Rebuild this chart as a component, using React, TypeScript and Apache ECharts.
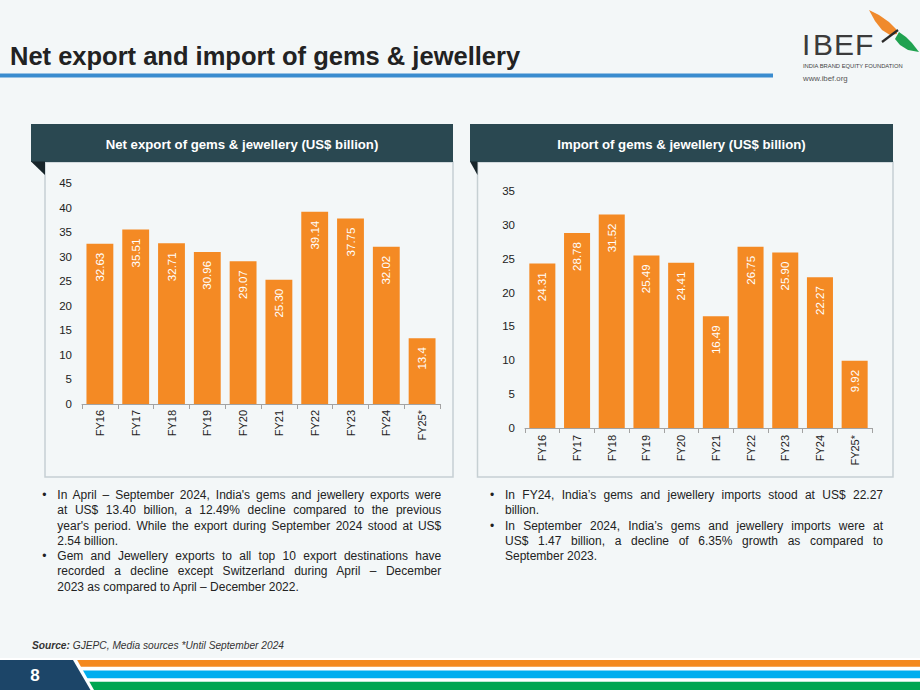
import React, { useEffect, useRef } from "react";
import * as echarts from "echarts";

// Fiscal-year categories shared by both charts
const fiscalYears = ["FY16", "FY17", "FY18", "FY19", "FY20", "FY21", "FY22", "FY23", "FY24", "FY25*"];

// Net export of gems & jewellery (US$ billion)
const netExports = [32.63, 35.51, 32.71, 30.96, 29.07, 25.3, 39.14, 37.75, 32.02, 13.4];
const netExportLabels = ["32.63", "35.51", "32.71", "30.96", "29.07", "25.30", "39.14", "37.75", "32.02", "13.4"];

// Import of gems & jewellery (US$ billion)
const imports = [24.31, 28.78, 31.52, 25.49, 24.41, 16.49, 26.75, 25.9, 22.27, 9.92];
const importLabels = ["24.31", "28.78", "31.52", "25.49", "24.41", "16.49", "26.75", "25.90", "22.27", "9.92"];

// Value-axis ranges
const exportAxis = { min: 0, max: 45, interval: 5 };
const importAxis = { min: 0, max: 35, interval: 5 };

const pageTitle = "Net export and import of gems & jewellery";
const exportTitle = "Net export of gems & jewellery (US$ billion)";
const importTitle = "Import of gems & jewellery (US$ billion)";

const exportNotes = [
  [
    "In April – September 2024, India's gems and jewellery exports were",
    "at US$ 13.40 billion, a 12.49% decline compared to the previous",
    "year's period. While the export during September 2024 stood at US$",
    "2.54 billion.",
  ],
  [
    "Gem and Jewellery exports to all top 10 export destinations have",
    "recorded a decline except Switzerland during April – December",
    "2023 as compared to April – December 2022.",
  ],
];

const importNotes = [
  ["In FY24, India’s gems and jewellery imports stood at US$ 22.27", "billion."],
  [
    "In September 2024, India’s gems and jewellery imports were at",
    "US$ 1.47 billion, a decline of 6.35% growth as compared to",
    "September 2023.",
  ],
];

const FONT = "'Liberation Sans', Arial, Helvetica, sans-serif";
const BG = "#f3f7f8";
const ORANGE = "#f48a24";
const HEADER = "#2a4851";
const AXIS = "#a3a3a3";
const INK = "#222222";

function categoryAxis(gridIndex: number, margin: number) {
  return {
    type: "category" as const,
    gridIndex,
    data: fiscalYears,
    axisLine: { show: true, lineStyle: { color: AXIS, width: 1 } },
    axisTick: { show: true, alignWithLabel: false, length: 5, lineStyle: { color: AXIS } },
    axisLabel: { rotate: 90, color: INK, fontSize: 11, fontFamily: FONT, margin },
    splitLine: { show: false },
  };
}

function valueAxis(gridIndex: number, range: { min: number; max: number; interval: number }) {
  return {
    type: "value" as const,
    gridIndex,
    min: range.min,
    max: range.max,
    interval: range.interval,
    axisLine: { show: false },
    axisTick: { show: false },
    splitLine: { show: false },
    axisLabel: { color: INK, fontSize: 11.5, fontFamily: FONT, margin: 10 },
  };
}

function barSeries(index: number, values: number[], labels: string[]) {
  return {
    type: "bar" as const,
    xAxisIndex: index,
    yAxisIndex: index,
    data: values,
    barCategoryGap: "25%",
    itemStyle: { color: ORANGE },
    label: {
      show: true,
      position: "insideTop",
      rotate: 90,
      align: "right",
      verticalAlign: "middle",
      distance: 9,
      color: "#ffffff",
      fontSize: 11.5,
      fontFamily: FONT,
      formatter: (p: any) => labels[p.dataIndex],
    },
  };
}

function text(x: number, y: number, t: string, style: Record<string, any>, z = 5) {
  return {
    type: "text",
    x,
    y,
    z,
    style: {
      text: t,
      fontFamily: FONT,
      align: style.align ?? "left",
      textAlign: style.align ?? "left",
      verticalAlign: "middle",
      textVerticalAlign: "middle",
      ...style,
    },
  };
}

function panelFrame(hx: number, hw: number, bodyX: number, title: string) {
  return [
    {
      type: "rect",
      shape: { x: bodyX, y: 162, width: hx + hw - bodyX, height: 315 },
      style: { fill: BG, stroke: "#c6d0d3", lineWidth: 1.5 },
      z: 0,
    },
    { type: "rect", shape: { x: hx, y: 124, width: hw, height: 38 }, style: { fill: HEADER }, z: 1 },
    {
      type: "polygon",
      shape: { points: [[hx, 161.5], [bodyX, 161.5], [bodyX, 175]] },
      style: { fill: "#17252a" },
      z: 1,
    },
    text(hx + hw / 2, 144, title, { fill: "#ffffff", fontSize: 13.2, fontWeight: "bold", align: "center" }, 6),
  ];
}

function logo() {
  const letters: [string, number][] = [["I", 802], ["B", 813], ["E", 834], ["F", 855]];
  return [
    ...letters.map(([ch, x]) =>
      text(x, 44.5, ch, { fill: "#3b3b3b", fontSize: 30, fontWeight: "normal" })
    ),
    {
      type: "polygon",
      shape: { points: [[869, 10], [879, 15], [889, 22], [896, 29], [897, 34], [890, 35], [882, 30], [875, 21]] },
      style: { fill: "#f08a2c" },
    },
    {
      type: "polygon",
      shape: { points: [[899, 32], [906, 37], [912, 43], [919, 52], [908, 50], [900, 45], [895, 39]] },
      style: { fill: "#1fa250" },
    },
    {
      type: "line",
      shape: { x1: 882, y1: 42, x2: 898, y2: 30 },
      style: { stroke: "#2a2a2a", lineWidth: 2.2 },
    },
    text(803, 66, "INDIA BRAND EQUITY FOUNDATION", { fill: "#444", fontSize: 5.8 }),
    text(803, 78, "www.ibef.org", { fill: "#555", fontSize: 7.8 }),
  ];
}

function footer() {
  return [
    { type: "rect", shape: { x: 0, y: 658, width: 920, height: 32 }, style: { fill: "#ffffff" } },
    { type: "rect", shape: { x: 0, y: 660, width: 920, height: 6.8 }, style: { fill: "#f4891f" } },
    { type: "rect", shape: { x: 0, y: 670.5, width: 920, height: 7.7 }, style: { fill: "#00aeef" } },
    { type: "rect", shape: { x: 0, y: 681.7, width: 920, height: 8.3 }, style: { fill: "#00a651" } },
    {
      type: "polygon",
      shape: { points: [[0, 658], [76, 658], [94, 690], [0, 690]] },
      style: { fill: "#ffffff" },
    },
    {
      type: "polygon",
      shape: { points: [[0, 660], [73, 660], [90.5, 690], [0, 690]] },
      style: { fill: "#1c4568" },
    },
    text(35, 675, "8", { fill: "#ffffff", fontSize: 17, fontWeight: "bold", align: "center" }),
  ];
}

function Notes({ paras, left, width }: { paras: string[][]; left: number; width: number }) {
  return (
    <div
      style={{
        position: "absolute",
        left,
        top: 488,
        width,
        fontFamily: FONT,
        fontSize: 12,
        lineHeight: "15.25px",
        color: INK,
      }}
    >
      {paras.map((lines, i) => (
        <div key={i} style={{ position: "relative" }}>
          <span style={{ position: "absolute", left: -15, top: 0 }}>•</span>
          {lines.map((line, j) => {
            const last = j === lines.length - 1;
            return (
              <div
                key={j}
                style={{
                  textAlign: last ? "left" : "justify",
                  textAlignLast: last ? "left" : "justify",
                  whiteSpace: "nowrap",
                }}
              >
                {line}
              </div>
            );
          })}
        </div>
      ))}
    </div>
  );
}

export default function App() {
  const ref = useRef<HTMLDivElement>(null);

  useEffect(() => {
    if (!ref.current) return;
    const chart = echarts.init(ref.current, undefined, { renderer: "svg" });
    chart.setOption({
      animation: false,
      backgroundColor: BG,
      grid: [
        { left: 82, right: 480, top: 183, bottom: 286, containLabel: false },
        { left: 525, right: 48, top: 191, bottom: 262, containLabel: false },
      ],
      xAxis: [categoryAxis(0, 6), categoryAxis(1, 7)],
      yAxis: [valueAxis(0, exportAxis), valueAxis(1, importAxis)],
      series: [barSeries(0, netExports, netExportLabels), barSeries(1, imports, importLabels)],
      graphic: [
        text(10, 56, pageTitle, { fill: INK, fontSize: 25.5, fontWeight: "bold" }),
        { type: "rect", shape: { x: 0, y: 73.5, width: 773, height: 4 }, style: { fill: "#3a8ccf" } },
        ...logo(),
        ...panelFrame(31, 422, 45, exportTitle),
        ...panelFrame(470, 423, 477.5, importTitle),
        {
          type: "text",
          x: 32,
          y: 645,
          z: 5,
          style: {
            rich: {
              b: { fontWeight: "bold", fontStyle: "italic", fontSize: 10.2, fontFamily: FONT, fill: "#333" },
              n: { fontStyle: "italic", fontSize: 10.2, fontFamily: FONT, fill: "#333" },
            },
            text: "{b|Source:}{n| GJEPC, Media sources *Until September 2024}",
            verticalAlign: "middle",
            textVerticalAlign: "middle",
          },
        },
        ...footer(),
      ],
    });
    return () => chart.dispose();
  }, []);

  return (
    <div style={{ position: "absolute", left: 0, top: 0, width: 920, height: 690, overflow: "hidden" }}>
      <div ref={ref} style={{ position: "absolute", left: 0, top: 0, width: 920, height: 690 }} />
      <Notes paras={exportNotes} left={57.3} width={384} />
      <Notes paras={importNotes} left={505} width={378} />
    </div>
  );
}
